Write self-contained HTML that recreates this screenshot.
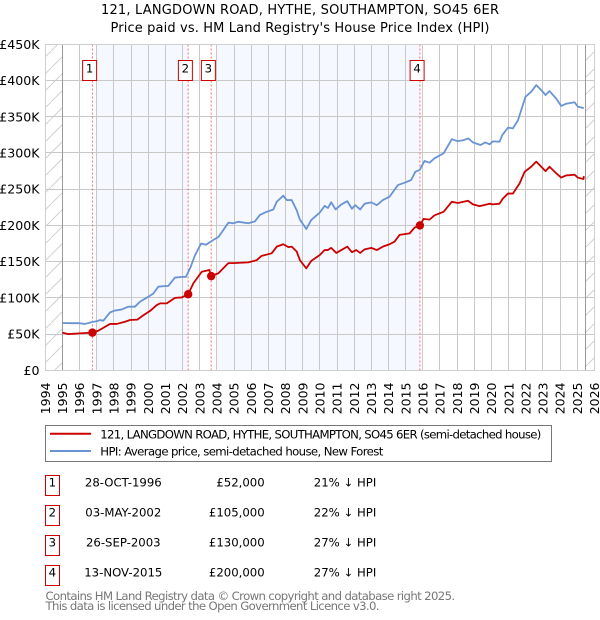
<!DOCTYPE html>
<html>
<head>
<meta charset="utf-8">
<style>
html,body{margin:0;padding:0;background:#fff;}
svg{display:block;}
text{font-family:"DejaVu Sans","Liberation Sans",sans-serif;fill:#000;}
</style>
</head>
<body>
<svg id="chart" width="600" height="620" viewBox="0 0 600 620" xmlns="http://www.w3.org/2000/svg">
  <defs>
    <pattern id="hatch" patternUnits="userSpaceOnUse" width="17" height="17">
      <path d="M0 17L17 0" stroke="#d0d0d0" stroke-width="1" fill="none"/>
    </pattern>
  </defs>
  <text x="300" y="14" font-size="13" text-anchor="middle" textLength="398" lengthAdjust="spacing">121, LANGDOWN ROAD, HYTHE, SOUTHAMPTON, SO45 6ER</text>
  <text x="300" y="32" font-size="13" text-anchor="middle" textLength="379" lengthAdjust="spacing">Price paid vs. HM Land Registry's House Price Index (HPI)</text>
  <g id="plot"></g>
  <g>
    <rect x="45.5" y="425.5" width="506" height="36" fill="#fff" stroke="#777" stroke-width="1"/>
    <line x1="50" x2="91" y1="433.8" y2="433.8" stroke="#cc0000" stroke-width="2"/>
    <text x="100.3" y="438.3" font-size="11.7" textLength="441" lengthAdjust="spacing">121, LANGDOWN ROAD, HYTHE, SOUTHAMPTON, SO45 6ER (semi-detached house)</text>
    <line x1="50" x2="91" y1="451" y2="451" stroke="#6a93d4" stroke-width="2"/>
    <text x="100.3" y="455.3" font-size="11.7" textLength="283" lengthAdjust="spacing">HPI: Average price, semi-detached house, New Forest</text>
  </g>
  <g font-size="11.7">
    <g>
      <rect x="45.5" y="475.5" width="14" height="20" fill="#fff" stroke="#cc0000" stroke-width="1"/>
      <text x="52.4" y="486.7" text-anchor="middle">1</text>
      <text x="123.3" y="486.7" text-anchor="middle">28-OCT-1996</text>
      <text x="264.7" y="486.7" text-anchor="end">£52,000</text>
      <text x="313.8" y="486.7">21% ↓ HPI</text>
    </g>
    <g>
      <rect x="45.5" y="505.5" width="14" height="20" fill="#fff" stroke="#cc0000" stroke-width="1"/>
      <text x="52.4" y="516.7" text-anchor="middle">2</text>
      <text x="123.3" y="516.7" text-anchor="middle">03-MAY-2002</text>
      <text x="264.7" y="516.7" text-anchor="end">£105,000</text>
      <text x="313.8" y="516.7">22% ↓ HPI</text>
    </g>
    <g>
      <rect x="45.5" y="535.5" width="14" height="20" fill="#fff" stroke="#cc0000" stroke-width="1"/>
      <text x="52.4" y="546.7" text-anchor="middle">3</text>
      <text x="123.3" y="546.7" text-anchor="middle">26-SEP-2003</text>
      <text x="264.7" y="546.7" text-anchor="end">£130,000</text>
      <text x="313.8" y="546.7">27% ↓ HPI</text>
    </g>
    <g>
      <rect x="45.5" y="565.5" width="14" height="20" fill="#fff" stroke="#cc0000" stroke-width="1"/>
      <text x="52.4" y="576.7" text-anchor="middle">4</text>
      <text x="123.3" y="576.7" text-anchor="middle">13-NOV-2015</text>
      <text x="264.7" y="576.7" text-anchor="end">£200,000</text>
      <text x="313.8" y="576.7">27% ↓ HPI</text>
    </g>
  </g>
  <text x="45.5" y="600" font-size="11.7" style="fill:#777" textLength="409.6" lengthAdjust="spacing">Contains HM Land Registry data © Crown copyright and database right 2025.</text>
  <text x="45.5" y="610" font-size="11.7" style="fill:#777" textLength="334" lengthAdjust="spacing">This data is licensed under the Open Government Licence v3.0.</text>
</svg>
<script>
const yearTicks = [1994,1995,1996,1997,1998,1999,2000,2001,2002,2003,2004,2005,2006,2007,2008,2009,2010,2011,2012,2013,2014,2015,2016,2017,2018,2019,2020,2021,2022,2023,2024,2025,2026];
const valueTicks = [0,50,100,150,200,250,300,350,400,450];
const valueTickLabels = ["£0","£50K","£100K","£150K","£200K","£250K","£300K","£350K","£400K","£450K"];
const hpiYears = [1995,1995.5,1995.99,1996.32,1996.77,1997,1997.19,1997.39,1997.78,1998.03,1998.46,1998.84,1999.23,1999.52,2000.01,2000.3,2000.59,2001,2001.17,2001.56,2001.99,2002.2,2002.48,2002.73,2003.08,2003.37,2003.8,2004.09,2004.38,2004.67,2004.96,2005.25,2005.83,2006.22,2006.51,2006.9,2007.29,2007.49,2007.87,2008.07,2008.36,2008.65,2008.84,2009.21,2009.5,2009.99,2010.28,2010.47,2010.66,2010.92,2011.25,2011.6,2011.87,2012.06,2012.35,2012.61,2013,2013.32,2013.67,2014.06,2014.55,2014.94,2015.32,2015.56,2015.81,2016.1,2016.39,2016.68,2017.21,2017.69,2018.04,2018.33,2018.66,2018.92,2019.36,2019.64,2019.89,2020.08,2020.47,2020.63,2020.96,2021.25,2021.54,2021.73,2021.98,2022.31,2022.61,2022.9,2023.15,2023.38,2023.77,2024.06,2024.35,2024.84,2025.03,2025.38];
const hpiValues = [65.3,65,65,64,66.9,67.7,69.4,68.5,80,82.3,84,87.8,87.8,94.6,101.6,106,115.4,116.4,116.4,128,129,129,143,159,175,173.4,180,184,193.7,203.8,203,205,203,205.6,214.4,218.8,222,232.7,241,235,235,221,208,195,207.5,217.6,227,224,232,222,229,233.5,223,228,222,230,231.8,228,235,239.6,255.7,259,262.7,274,276.4,289,286.6,292.6,299.5,319,316.3,317.5,320,314.6,311,314.6,312,316,315.6,324.7,335,334,345,359,377.6,384.5,393.7,386.8,380,385.5,375,365,368,370,364,362];
const priceYears = [1995,1995.35,1995.99,1996.75,1997.1,1997.78,1998.17,1998.65,1998.94,1999.37,1999.72,2000.11,2000.5,2000.69,2001.08,2001.56,2001.95,2002.33,2002.63,2003.12,2003.56,2003.67,2004.09,2004.67,2004.96,2005.83,2006.32,2006.61,2007.19,2007.49,2007.87,2008.17,2008.36,2008.65,2008.84,2009.21,2009.5,2009.99,2010.28,2010.47,2010.66,2010.96,2011.25,2011.6,2011.87,2012.12,2012.35,2012.61,2013,2013.32,2013.67,2014.06,2014.35,2014.65,2015.23,2015.52,2015.83,2016.04,2016.39,2016.68,2017.21,2017.69,2018.04,2018.63,2018.92,2019.31,2019.89,2020.08,2020.47,2020.66,2020.96,2021.25,2021.64,2021.93,2022.31,2022.61,2022.9,2023.15,2023.38,2023.77,2024.06,2024.35,2024.84,2025.03,2025.36,2025.38];
const priceValues = [52,50,51,52,54.8,64,64,67,69.4,70,76,82,90,92.4,92.4,100,100.6,105,120,136,138.5,130,134,148,148,149,152,158,161.5,170.7,174,170,170.7,164,152,140.7,151,159,166,166,169,162,166,170.7,163,166,162,167,169,166,170.7,174,177.6,187,189,197,200,209,208,214,218.8,232.7,231,234,229,226.7,230,229,230,237,244,244,258,274,281,288,281,275,281,272,266,269,270,266,264,268];
const saleLabels = ["1","2","3","4"];
const saleYears = [1996.75,2002.33,2003.67,2015.83];
const salePrices = [52,105,130,200];
const shadeStarts = [1997,2004];
const shadeEnds = [2002.33,2015.83];
const dataStartYear = 1995;
const dataEndYear = 2025.5;

const NS = 'http://www.w3.org/2000/svg';
const plot = document.getElementById('plot');
const L = 45.5, R = 594.5, T = 44.5, B = 370.5;
function xOf(year){ return 45.2 + (year - 1994) * 17.165; }
function yOf(v){ return 370.3 - v * 0.7244; }
function crisp(p){ return Math.floor(p) + 0.5; }
function make(tag, attrs, parent){
  const el = document.createElementNS(NS, tag);
  for (const k in attrs) el.setAttribute(k, attrs[k]);
  (parent || plot).appendChild(el);
  return el;
}

// hatched out-of-range zones
const hatchLeft = make('rect', {x:L, y:T, width:xOf(dataStartYear)-L, height:B-T, fill:'url(#hatch)'});


const hatchRight = make('rect', {x:xOf(dataEndYear), y:T, width:R-xOf(dataEndYear), height:B-T, fill:'url(#hatch)'});



// shaded ownership spans
shadeStarts.forEach(function(s, i){
  const band = make('rect', {x:xOf(s), y:T, width:xOf(shadeEnds[i])-xOf(s), height:B-T, fill:'#f5f8ff'});
  
  
});

// gridlines
yearTicks.forEach(function(y){
  const gx = crisp(xOf(y));
  const line = make('line', {x1:gx, x2:gx, y1:T, y2:B, stroke:'#c8c8c8', 'stroke-width':1});
  
  
});
valueTicks.forEach(function(v){
  const gy = crisp(yOf(v));
  const line = make('line', {x1:L, x2:R, y1:gy, y2:gy, stroke:'#c8c8c8', 'stroke-width':1});
  
  
});

// data range bounds
[dataStartYear, dataEndYear].forEach(function(y){
  const bx = crisp(xOf(y));
  const line = make('line', {x1:bx, x2:bx, y1:T, y2:B, stroke:'#999', 'stroke-width':1});
  
  
});

// y tick labels
valueTicks.forEach(function(v, i){
  const t = make('text', {x:39.5, y:yOf(v)+4.5, 'font-size':12.6, 'text-anchor':'end'});
  t.textContent = valueTickLabels[i];
  
  
});

// x tick labels
yearTicks.forEach(function(y){
  const tx = xOf(y) + 4.6, ty = 414.3;
  const t = make('text', {x:tx, y:ty, 'font-size':12.5, transform:'rotate(-90 '+tx+' '+ty+')'});
  t.textContent = String(y);
  
  
});

// sale vertical markers
saleYears.forEach(function(y){
  const line = make('line', {x1:xOf(y), x2:xOf(y), y1:T, y2:B, stroke:'#ff6b6b', 'stroke-width':1, 'stroke-dasharray':'2 2'});
  
  
});

function seriesPath(years, values){
  return years.map(function(y, i){ return (i ? 'L' : 'M') + xOf(y).toFixed(2) + ' ' + yOf(values[i]).toFixed(2); }).join('');
}
const hpiLine = make('path', {d:seriesPath(hpiYears, hpiValues), fill:'none', stroke:'#6a93d4', 'stroke-width':1.8, 'stroke-linejoin':'round'});


const priceLine = make('path', {d:seriesPath(priceYears, priceValues), fill:'none', stroke:'#cc0000', 'stroke-width':1.8, 'stroke-linejoin':'round'});



// sale points and number boxes
saleYears.forEach(function(y, i){
  const dot = make('circle', {cx:xOf(y), cy:yOf(salePrices[i]), r:4.2, fill:'#cc0000'});
  
  
  const cx = xOf(y) - 2.8;
  const box = make('rect', {x:cx-7, y:60.5, width:14, height:20, fill:'#fff', stroke:'#cc0000', 'stroke-width':1});
  
  
  const label = make('text', {x:cx, y:72.7, 'font-size':11.7, 'text-anchor':'middle'});
  label.textContent = saleLabels[i];
  
  
});

// outer plot frame
const frame = make('rect', {x:L, y:T, width:R-L, height:B-T, fill:'none', stroke:'#cfcfcf', 'stroke-width':1});


</script>
</body>
</html>
